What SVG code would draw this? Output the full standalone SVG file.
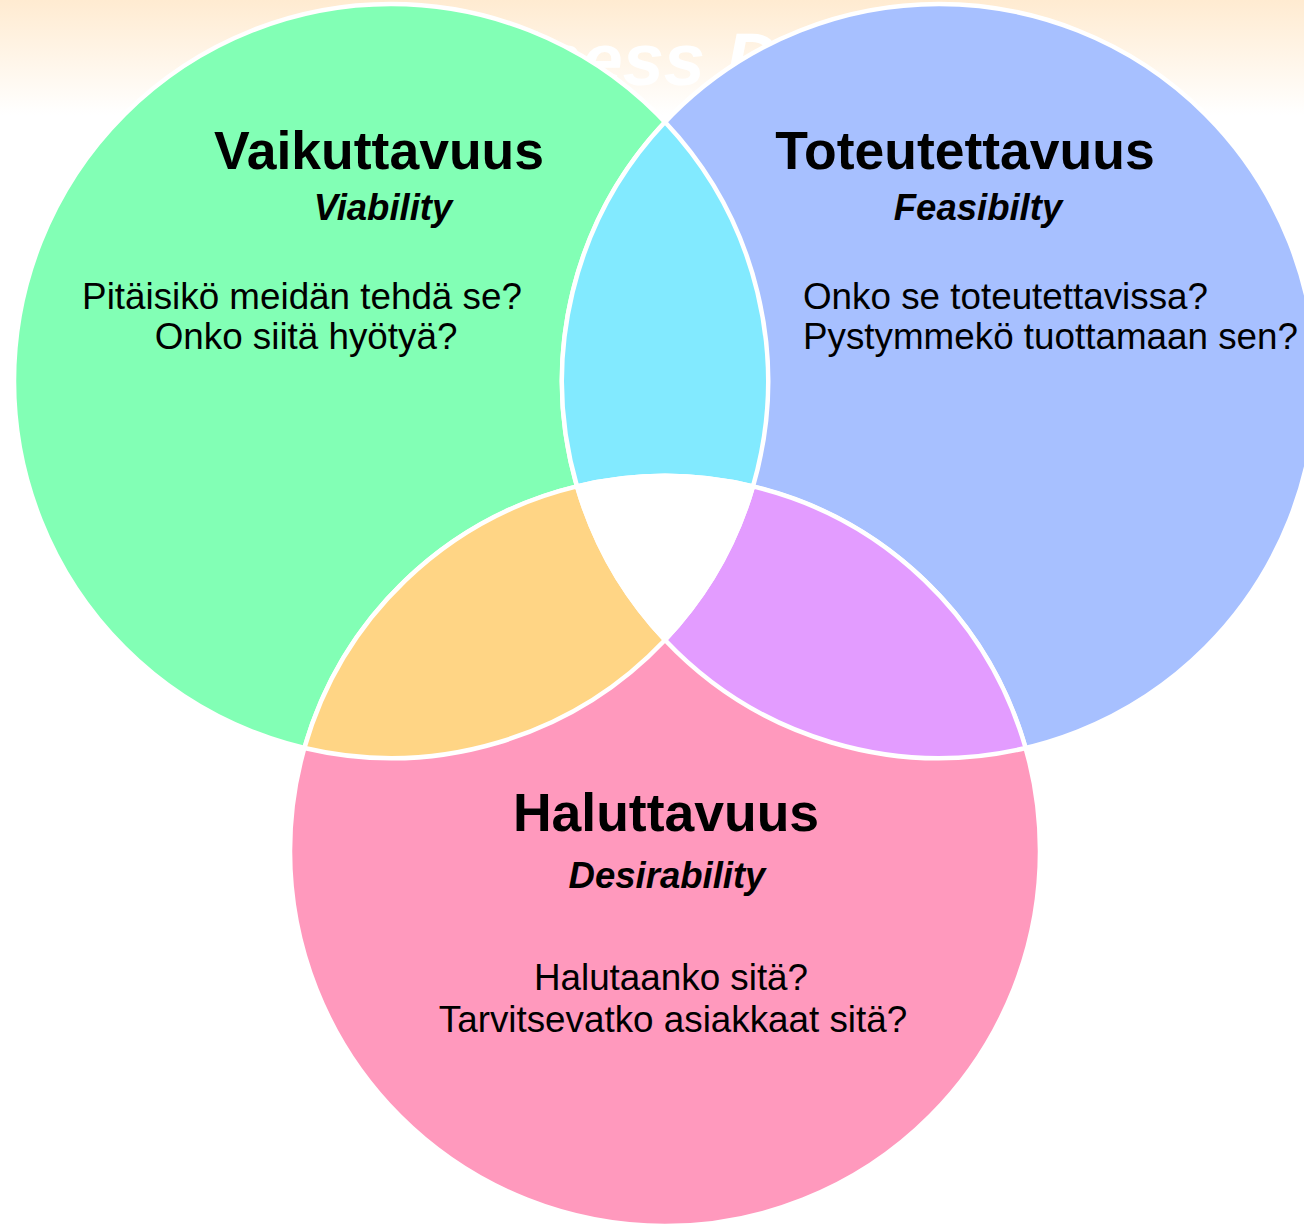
<svg xmlns="http://www.w3.org/2000/svg" width="1304" height="1229" viewBox="0 0 1304 1229">
  <defs>
    <linearGradient id="bg" x1="0" y1="0" x2="0" y2="1">
      <stop offset="0" stop-color="#FFEBD1"/>
      <stop offset="1" stop-color="#FFFFFF"/>
    </linearGradient>
    <style>
      .region { stroke: #FFFFFF; stroke-width: 4.5; stroke-linejoin: round; }
      .title { font-family: "Liberation Sans", Arial, sans-serif; font-weight: bold; font-size: 53.5px; fill: #000000; text-anchor: middle; }
      .sub { font-family: "Liberation Sans", Arial, sans-serif; font-weight: bold; font-style: italic; font-size: 36.5px; fill: #000000; text-anchor: middle; }
      .body { font-family: "Liberation Sans", Arial, sans-serif; font-size: 36.8px; fill: #000000; }
    </style>
  </defs>
  <rect x="0" y="0" width="1304" height="1229" fill="#FFFFFF"/>
  <rect x="0" y="0" width="1304" height="115" fill="url(#bg)"/>
  <text x="376" y="85" font-family="Liberation Sans, Arial, sans-serif" font-weight="bold" font-style="italic" font-size="74" fill="#FFFFFF">Business Design</text>

  <g id="circles">
    <g id="viability">
      <circle class="region" cx="391" cy="381" r="377" fill="#82FFB5"/>
    </g>
    <g id="feasibility">
      <circle class="region" cx="939" cy="381" r="377" fill="#A7C0FF"/>
    </g>
    <g id="desirability">
      <circle class="region" cx="665" cy="851" r="375" fill="#FF99BD"/>
    </g>
    <g id="overlap-vf">
      <path class="region" fill="#82EAFF" d="M 665 122 A 377 377 0 0 0 577 486.4 A 375 375 0 0 1 753 486.4 A 377 377 0 0 0 665 122 Z"/>
    </g>
    <g id="overlap-vd">
      <path class="region" fill="#FFD585" d="M 304.4 748 A 375 375 0 0 1 577 486.4 A 377 377 0 0 0 665 640 A 377 377 0 0 1 304.4 748 Z"/>
    </g>
    <g id="overlap-fd">
      <path class="region" fill="#E39CFF" d="M 1025.6 748 A 375 375 0 0 0 753 486.4 A 377 377 0 0 1 665 640 A 377 377 0 0 0 1025.6 748 Z"/>
    </g>
    <g id="overlap-all">
      <path class="region" fill="#FFFFFF" d="M 577 486.4 A 375 375 0 0 1 753 486.4 A 377 377 0 0 1 665 640 A 377 377 0 0 1 577 486.4 Z"/>
    </g>
  </g>

  <g id="labels">
    <g id="label-viability">
      <text class="title" x="379" y="169">Vaikuttavuus</text>
      <text class="sub" x="383" y="220">Viability</text>
      <text class="body" x="302" y="309" text-anchor="middle">Pitäisikö meidän tehdä se?</text>
      <text class="body" x="306" y="349" text-anchor="middle">Onko siitä hyötyä?</text>
    </g>
    <g id="label-feasibility">
      <text class="title" x="965" y="169">Toteutettavuus</text>
      <text class="sub" x="978" y="220">Feasibilty</text>
      <text class="body" x="803" y="309">Onko se toteutettavissa?</text>
      <text class="body" x="803" y="349">Pystymmekö tuottamaan sen?</text>
    </g>
    <g id="label-desirability">
      <text class="title" x="666" y="831">Haluttavuus</text>
      <text class="sub" x="667" y="888">Desirability</text>
      <text class="body" x="671" y="990" text-anchor="middle">Halutaanko sitä?</text>
      <text class="body" x="673" y="1032" text-anchor="middle">Tarvitsevatko asiakkaat sitä?</text>
    </g>
  </g>
  <g id="connectors"/>
</svg>
